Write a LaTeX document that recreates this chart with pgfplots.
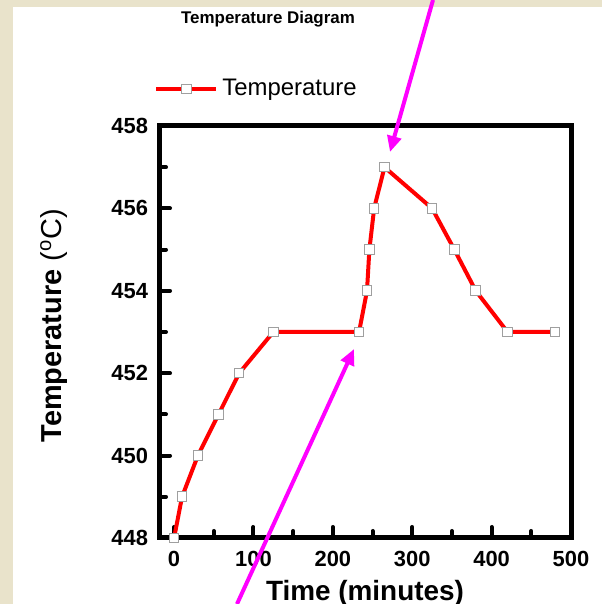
\documentclass[border=0pt]{standalone}
\usepackage{fontspec}
\setmainfont{Liberation Sans}
\usepackage{pgfplots}
\pgfplotsset{compat=1.18}
\usetikzlibrary{arrows.meta}

\definecolor{beige}{HTML}{E9E3CB}
\definecolor{magline}{HTML}{FF00FF}

\pgfplotstableread{
t T
0 448
10 449
30 450
56 451
82 452
125 453
233 453
243 454
246 455
252 456
265 457
325 456
353 455
380 454
420 453
480 453
}\temps

\begin{document}
% picture units: 1 px of the reference = 0.5bp, y measured from the bottom
\begin{tikzpicture}[x=0.5bp,y=0.5bp]
\useasboundingbox (0,0) rectangle (602,604);
\fill[beige] (0,0) rectangle (602,604);
\fill[white] (13,0) rectangle (602,597);

\node[font=\bfseries\fontsize{8.5}{10}\selectfont] at (268,585) {Temperature Diagram};

\begin{axis}[
  at={(79.5bp,33bp)}, anchor=south west,
  scale only axis, width=206bp, height=206bp,
  xmin=-19, xmax=500, ymin=448, ymax=458,
  xtick={0,100,...,500}, minor xtick={50,150,...,450},
  ytick={448,450,...,458}, minor ytick={449,451,...,457},
  tick pos=left, tick align=inside,
  axis line style={line width=2.5bp},
  major tick length=5.5bp, minor tick length=3.5bp,
  every tick/.style={line width=2bp, line cap=round, black},
  /pgf/number format/assume math mode=true,
  /pgf/number format/1000 sep={},
  tick label style={font=\bfseries\fontsize{11}{12}\selectfont},
  xticklabel style={yshift=-3bp},
  yticklabel style={xshift=-2bp},
  xlabel={\bfseries Time (minutes)},
  ylabel={{\bfseries Temperature} (\textsuperscript{o}C)},
  xlabel style={font=\fontsize{14}{16}\selectfont, at={(axis description cs:0.5,-0.135)}, anchor=center},
  ylabel style={font=\fontsize{14.5}{16}\selectfont, at={(axis description cs:-0.255,0.515)}, anchor=center},
  legend style={at={(axis description cs:-0.012,1.09)}, anchor=west, draw=none, fill=none,
    inner sep=0pt, font=\fontsize{12}{14}\selectfont},
  legend image code/.code={
    \draw[mark repeat=2,mark phase=2,#1] plot coordinates {(0bp,0bp) (15bp,0bp) (30bp,0bp)};
  },
  clip=false,
]
\addplot[red, line width=2bp, mark=square*,
  mark size=2.4bp, mark options={fill=white, draw=gray!75, line width=0.5bp}]
  table[x=t, y=T] {\temps};
\addlegendentry{Temperature}
\end{axis}

\draw[magline, line width=2bp, -{Triangle[length=8bp,width=7bp]}] (433,604) -- (390,452);
\draw[magline, line width=2bp, -{Triangle[length=8bp,width=7bp]}] (237,0) -- (354,255);
\end{tikzpicture}
\end{document}
